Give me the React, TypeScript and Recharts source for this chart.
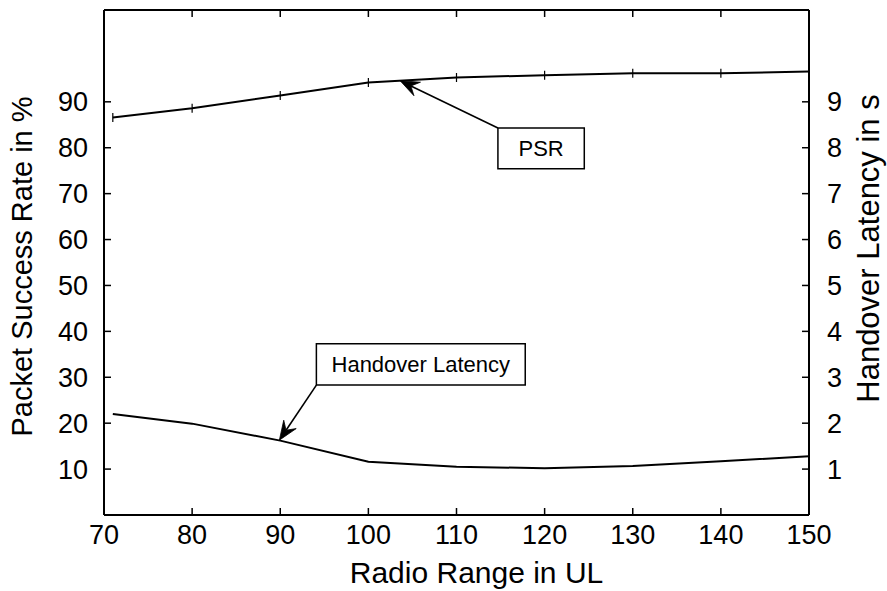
import React from 'react';
import {
  LineChart,
  Line,
  XAxis,
  YAxis,
  ReferenceArea,
  ReferenceLine,
} from 'recharts';

const radioRange = [71, 80, 90, 100, 110, 120, 130, 140, 150];
const psrValues = [86.6, 88.6, 91.4, 94.2, 95.3, 95.8, 96.2, 96.2, 96.6];
const latencyValues = [2.2, 1.99, 1.62, 1.16, 1.05, 1.02, 1.07, 1.17, 1.28];

const xTicks = [70, 80, 90, 100, 110, 120, 130, 140, 150];
const leftTicks = [10, 20, 30, 40, 50, 60, 70, 80, 90];
const rightTicks = [1, 2, 3, 4, 5, 6, 7, 8, 9];

// annotation boxes / arrows in data units (x, left-axis y)
const psrBox = { x1: 114.7, x2: 124.5, y1: 75.4, y2: 84.3, text: 'PSR' };
const psrArrow = [
  { x: 114.7, y: 84.3 },
  { x: 103.6, y: 94.6 },
];
const hoBox = { x1: 94.1, x2: 117.8, y1: 28.3, y2: 37.3, text: 'Handover Latency' };
const hoArrow = [
  { x: 94.1, y: 28.3 },
  { x: 89.9, y: 16.3 },
];

const data = radioRange.map((r, i) => ({
  range: r,
  psr: psrValues[i],
  latency: latencyValues[i],
}));

const FONT = '"Liberation Sans", Arial, Helvetica, sans-serif';

const PsrDot = (props: any) => {
  const { cx, cy } = props;
  if (cx == null || cy == null) return null;
  return <line x1={cx} x2={cx} y1={cy - 4.5} y2={cy + 4.5} stroke="#000" strokeWidth={1.2} />;
};

const Arrow = (props: any) => {
  const { x1, y1, x2, y2 } = props;
  if ([x1, y1, x2, y2].some((v) => v == null || isNaN(v))) return null;
  const dx = x2 - x1;
  const dy = y2 - y1;
  const len = Math.sqrt(dx * dx + dy * dy) || 1;
  const ux = dx / len;
  const uy = dy / len;
  const px = -uy;
  const py = ux;
  const L = 19;
  const W = 7.5;
  const N = 12;
  const bx = x2 - ux * L;
  const by = y2 - uy * L;
  const nx = x2 - ux * N;
  const ny = y2 - uy * N;
  const pts = [
    [x2, y2],
    [bx + px * W, by + py * W],
    [nx, ny],
    [bx - px * W, by - py * W],
  ]
    .map((p) => p.join(','))
    .join(' ');
  return (
    <g>
      <line x1={x1} y1={y1} x2={nx} y2={ny} stroke="#000" strokeWidth={1.6} />
      <polygon points={pts} fill="#000" stroke="#000" strokeWidth={0.8} strokeLinejoin="miter" />
    </g>
  );
};

const LeftTitle = (props: any) => {
  const vb = props.viewBox || {};
  const cx = vb.x + 22;
  const cy = vb.y + vb.height / 2 + 4;
  return (
    <text
      x={cx}
      y={cy}
      transform={`rotate(-90 ${cx} ${cy})`}
      textAnchor="middle"
      dominantBaseline="central"
      fontSize={29}
      fontFamily={FONT}
      fill="#000"
    >
      Packet Success Rate in %
    </text>
  );
};

const RightTitle = (props: any) => {
  const vb = props.viewBox || {};
  const cx = vb.x + 59;
  const cy = vb.y + vb.height / 2 - 14;
  return (
    <text
      x={cx}
      y={cy}
      transform={`rotate(-90 ${cx} ${cy})`}
      textAnchor="middle"
      dominantBaseline="central"
      fontSize={31}
      fontFamily={FONT}
      fill="#000"
    >
      Handover Latency in s
    </text>
  );
};

const BottomTitle = (props: any) => {
  const vb = props.viewBox || {};
  const cx = vb.x + vb.width / 2 + 20;
  const cy = vb.y + 68;
  return (
    <text x={cx} y={cy} textAnchor="middle" fontSize={30} fontFamily={FONT} fill="#000">
      Radio Range in UL
    </text>
  );
};

const TopTick = (props: any) => {
  const { x, y } = props;
  if (x == null || y == null) return null;
  return <line x1={x} x2={x} y1={y} y2={y + 7} stroke="#000" strokeWidth={1.5} />;
};

const tickStyle = { fontSize: 27, fontFamily: FONT, fill: '#000' };

export default function App() {
  return (
    <div style={{ position: 'absolute', left: 0, top: 0, background: '#fff' }}>
      <LineChart
        width={887}
        height={591}
        data={data}
        margin={{ top: 9, right: 0, bottom: 0, left: 0 }}
      >
        <XAxis
          dataKey="range"
          type="number"
          domain={[70, 150]}
          ticks={xTicks}
          interval={0}
          height={76}
          tickSize={-7}
          tickMargin={17}
          tick={tickStyle}
          axisLine={{ stroke: '#000', strokeWidth: 2 }}
          tickLine={{ stroke: '#000', strokeWidth: 1.5 }}
          label={<BottomTitle />}
        />
        <XAxis
          xAxisId="top"
          dataKey="range"
          orientation="top"
          type="number"
          domain={[70, 150]}
          ticks={xTicks}
          interval={0}
          height={1}
          tickSize={0}
          tickMargin={0}
          tick={<TopTick />}
          axisLine={{ stroke: '#000', strokeWidth: 2 }}
          tickLine={false}
        />
        <YAxis
          yAxisId="left"
          orientation="left"
          type="number"
          domain={[0, 110]}
          ticks={leftTicks}
          interval={0}
          width={104}
          tickSize={-7}
          tickMargin={23}
          tick={tickStyle}
          axisLine={{ stroke: '#000', strokeWidth: 2 }}
          tickLine={{ stroke: '#000', strokeWidth: 1.5 }}
          label={<LeftTitle />}
        />
        <YAxis
          yAxisId="right"
          orientation="right"
          type="number"
          domain={[0, 11]}
          ticks={rightTicks}
          interval={0}
          width={78}
          tickSize={-7}
          tickMargin={25}
          tick={tickStyle}
          axisLine={{ stroke: '#000', strokeWidth: 2 }}
          tickLine={{ stroke: '#000', strokeWidth: 1.5 }}
          label={<RightTitle />}
        />
        <Line
          xAxisId="top"
          yAxisId="left"
          dataKey="psr"
          type="linear"
          stroke="none"
          strokeOpacity={0}
          dot={false}
          activeDot={false}
          legendType="none"
          isAnimationActive={false}
        />
        <Line
          yAxisId="left"
          dataKey="psr"
          type="linear"
          stroke="#000"
          strokeWidth={2}
          dot={<PsrDot />}
          activeDot={false}
          isAnimationActive={false}
        />
        <Line
          yAxisId="right"
          dataKey="latency"
          type="linear"
          stroke="#000"
          strokeWidth={2}
          dot={false}
          activeDot={false}
          isAnimationActive={false}
        />
        <ReferenceLine
          yAxisId="left"
          segment={psrArrow}
          shape={<Arrow />}
          ifOverflow="visible"
        />
        <ReferenceLine
          yAxisId="left"
          segment={hoArrow}
          shape={<Arrow />}
          ifOverflow="visible"
        />
        <ReferenceArea
          yAxisId="left"
          x1={psrBox.x1}
          x2={psrBox.x2}
          y1={psrBox.y1}
          y2={psrBox.y2}
          fill="#fff"
          fillOpacity={1}
          stroke="#000"
          strokeWidth={1.5}
          ifOverflow="visible"
          label={{ value: psrBox.text, position: 'center', fontSize: 22, fontFamily: FONT, fill: '#000' }}
        />
        <ReferenceArea
          yAxisId="left"
          x1={hoBox.x1}
          x2={hoBox.x2}
          y1={hoBox.y1}
          y2={hoBox.y2}
          fill="#fff"
          fillOpacity={1}
          stroke="#000"
          strokeWidth={1.5}
          ifOverflow="visible"
          label={{ value: hoBox.text, position: 'center', fontSize: 22, fontFamily: FONT, fill: '#000' }}
        />
      </LineChart>
    </div>
  );
}
